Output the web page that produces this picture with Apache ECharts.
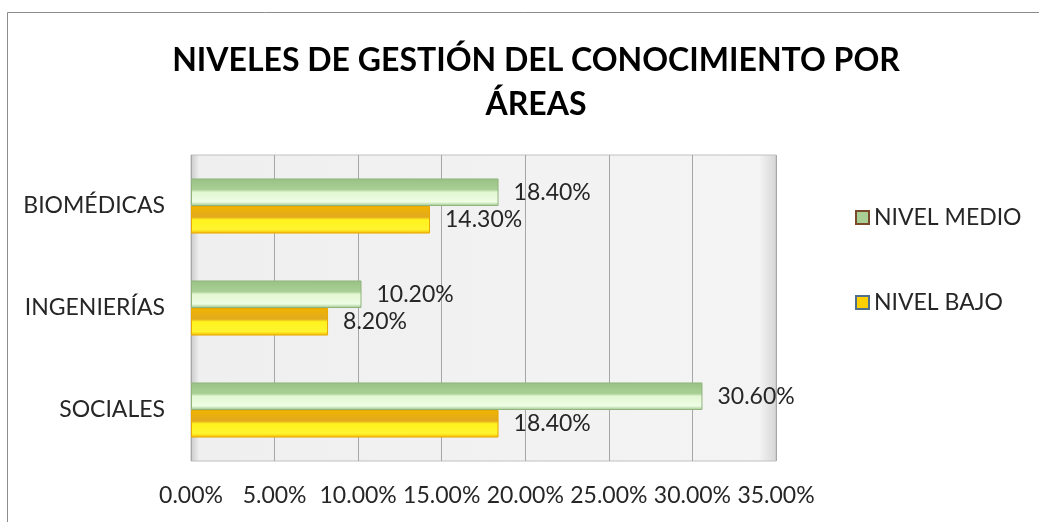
<!DOCTYPE html>
<html>
<head>
<meta charset="utf-8">
<script src="https://cdn.jsdelivr.net/npm/echarts@6/dist/echarts.min.js"></script>
<style>
  html, body { margin: 0; padding: 0; background: #fff; }
  #chart { width: 1039px; height: 522px; }
</style>
</head>
<body>
<div id="chart"></div>
<script>
// categories (top to bottom) and values in percent
const categories = ["BIOMÉDICAS", "INGENIERÍAS", "SOCIALES"];
const nivelMedio = [18.4, 10.2, 30.6];
const nivelBajo = [14.3, 8.2, 18.4];
const seriesNames = ["NIVEL MEDIO", "NIVEL BAJO"];

const FONT = "Lato";
const TEXT_SIZE = 23;

const chart = echarts.init(document.getElementById("chart"));

const greenFill = new echarts.graphic.LinearGradient(0, 0, 0, 1, [
  { offset: 0, color: "#98c184" },
  { offset: 0.4, color: "#a9cf95" },
  { offset: 0.5, color: "#e3f7d2" },
  { offset: 0.85, color: "#eefde4" },
  { offset: 1, color: "#9cc488" },
]);
const yellowFill = new echarts.graphic.LinearGradient(0, 0, 0, 1, [
  { offset: 0, color: "#f0b400" },
  { offset: 0.4, color: "#e2a91e" },
  { offset: 0.5, color: "#fff21e" },
  { offset: 0.85, color: "#fff430" },
  { offset: 1, color: "#f5b800" },
]);
// grey back wall, a bit darker on the side edges
const wallFill = new echarts.graphic.LinearGradient(0, 0, 1, 0, [
  { offset: 0, color: "#c9c9c9" },
  { offset: 0.015, color: "#efefef" },
  { offset: 0.97, color: "#f4f4f4" },
  { offset: 1, color: "#d6d6d6" },
]);

const labelStyle = {
  show: true,
  position: "right",
  distance: 15,
  fontFamily: FONT,
  fontSize: TEXT_SIZE,
  color: "#262626",
  formatter: (p) => p.value.toFixed(2) + "%",
};

const option = {
  backgroundColor: "#fff",
  title: {
    text: "NIVELES DE GESTIÓN DEL CONOCIMIENTO POR\nÁREAS",
    left: 531,
    top: 34,
    textAlign: "center",
    textStyle: {
      fontFamily: FONT,
      fontWeight: "bold",
      fontSize: 32,
      lineHeight: 44,
      color: "#000",
    },
  },
  legend: {
    orient: "vertical",
    left: 850,
    top: 201,
    itemGap: 62,
    itemWidth: 13,
    itemHeight: 13,
    icon: "rect",
    textStyle: { fontFamily: FONT, fontSize: TEXT_SIZE, color: "#262626" },
    data: [
      { name: seriesNames[0], itemStyle: { color: "#a9cf95", borderColor: "#7a4a2a", borderWidth: 2 } },
      { name: seriesNames[1], itemStyle: { color: "#ffd000", borderColor: "#4f6f8f", borderWidth: 2 } },
    ],
  },
  grid: {
    left: 191,
    top: 155,
    width: 585,
    height: 306,
    show: true,
    backgroundColor: wallFill,
    borderColor: "#c0c0c0",
    borderWidth: 1,
  },
  xAxis: {
    type: "value",
    min: 0,
    max: 35,
    interval: 5,
    axisLine: { show: false },
    axisTick: { show: false },
    axisLabel: {
      margin: 23,
      fontFamily: FONT,
      fontSize: TEXT_SIZE,
      color: "#262626",
      formatter: (v) => v.toFixed(2) + "%",
    },
    splitLine: { lineStyle: { color: "#a6a6a6", width: 1 } },
  },
  yAxis: {
    type: "category",
    inverse: true,
    data: categories,
    axisLine: { show: false },
    axisTick: { show: false },
    axisLabel: {
      margin: 26,
      fontFamily: FONT,
      fontSize: TEXT_SIZE,
      color: "#262626",
    },
  },
  series: [
    {
      name: seriesNames[0],
      type: "bar",
      data: nivelMedio,
      barGap: "0%",
      barCategoryGap: "46%",
      itemStyle: { color: greenFill, borderColor: "#8fb57d", borderWidth: 1 },
      label: labelStyle,
    },
    {
      name: seriesNames[1],
      type: "bar",
      data: nivelBajo,
      itemStyle: { color: yellowFill, borderColor: "#e8a800", borderWidth: 1 },
      label: labelStyle,
    },
  ],
  graphic: [
    {
      type: "rect",
      left: 5,
      top: 10,
      shape: { width: 1040, height: 520 },
      style: { fill: "none", stroke: "#8c8c8c", lineWidth: 1 },
      silent: true,
    },
  ],
};

chart.setOption(option);
</script>
</body>
</html>
